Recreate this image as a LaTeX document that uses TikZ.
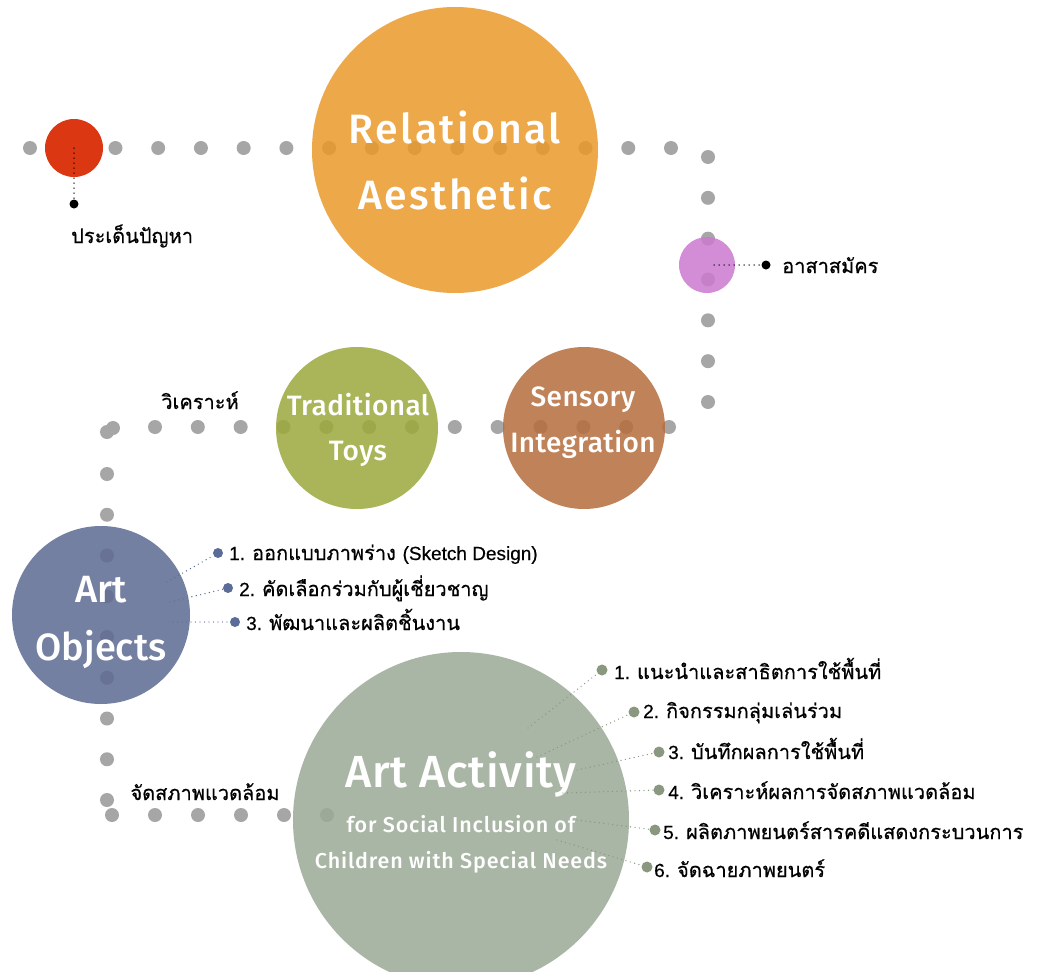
\documentclass[tikz,border=0pt]{standalone}
\usepackage{fontspec}
\setmainfont{Fira Sans}
\newfontfamily\titlefont{Fira Sans Medium}
\newfontfamily\thaifont[Script=Thai,FakeBold=0.6]{Loma}
\newfontfamily\latinfont[FakeBold=0.4,Scale=0.95]{Liberation Sans}
\newcommand{\ltn}[1]{{\latinfont #1}}
\definecolor{dotgray}{RGB}{166,166,166}
\definecolor{raFill}{RGB}{233,153,42}
\definecolor{ttFill}{RGB}{155,169,59}
\definecolor{siFill}{RGB}{181,109,61}
\definecolor{aoFill}{RGB}{92,106,146}
\definecolor{aaFill}{RGB}{155,169,150}
\definecolor{purFill}{RGB}{204,122,207}
\definecolor{redFill}{RGB}{218,55,18}
\definecolor{aoItem}{RGB}{91,108,152}
\definecolor{aaItem}{RGB}{138,152,128}
\begin{document}
\begin{tikzpicture}[x=1pt,y=-1pt,
  trail/.style={fill=dotgray},
  bubble/.style={circle,inner sep=0pt,draw=none,fill opacity=0.85},
  solidbubble/.style={circle,inner sep=0pt,draw=none},
  title/.style={text=white,anchor=base,inner sep=0pt},
  bigtitle/.style={title,font=\titlefont\fontsize{41}{41}\selectfont\addfontfeature{LetterSpace=6}},
  objtitle/.style={title,font=\titlefont\fontsize{38}{38}\selectfont},
  midtitle/.style={title,font=\titlefont\fontsize{28}{28}\selectfont\addfontfeature{LetterSpace=1.5}},
  smalltitle/.style={title,font=\titlefont\fontsize{21.5}{21.5}\selectfont\addfontfeature{LetterSpace=4}},
  tip/.style={circle,inner sep=0pt,minimum size=9pt,fill=black},
  pin/.style={black,line width=1.5pt,line cap=round,dash pattern=on 0pt off 5pt},
  aotip/.style={circle,inner sep=0pt,minimum size=10pt,fill=aoItem},
  aatip/.style={circle,inner sep=0pt,minimum size=11pt,fill=aaItem},
  aoline/.style={aoItem,line width=1.4pt,line cap=round,dash pattern=on 0pt off 4.5pt},
  aaline/.style={aaItem,line width=1.4pt,line cap=round,dash pattern=on 0pt off 4.5pt},
  thailabel/.style={inner sep=0pt,font=\thaifont\fontsize{20}{20}\selectfont},
]
\useasboundingbox (0,0) rectangle (1045,972);
\fill[white] (0,0) rectangle (1045,972);

% dotted trail running through the stages
\foreach \k in {0,...,15} \fill[trail] ({30+42.733*\k},148) circle[radius=7pt];
\foreach \k in {0,...,6} \fill[trail] (708,{157+40.833*\k}) circle[radius=7pt];
\foreach \k in {0,...,12} \fill[trail] ({155+42.833*\k},427) circle[radius=7pt];
\fill[trail] (113,428) circle[radius=7pt];
\fill[trail] (107,432) circle[radius=7pt];
\foreach \k in {0,...,8} \fill[trail] (107,{474+40.75*\k}) circle[radius=7pt];
\foreach \k in {0,...,5} \fill[trail] ({112+43*\k},815) circle[radius=7pt];

% stage circles
\node[bubble,fill=raFill,minimum size=286pt] (ra) at (455,150) {};
\node[bubble,fill=ttFill,minimum size=162pt] (tt) at (357,428) {};
\node[bubble,fill=siFill,minimum size=162pt] (si) at (584,428) {};
\node[bubble,fill=aoFill,minimum size=178pt] (ao) at (101,615) {};
\node[bubble,fill=aaFill,minimum size=336pt] (aa) at (461,820) {};
\node[bubble,fill=purFill,minimum size=56pt] (pur) at (707,265) {};
\node[solidbubble,fill=redFill,minimum size=58pt] (red) at (74,148) {};

% circle titles
\node[bigtitle] (raT1) at (455,143) {Relational};
\node[bigtitle] (raT2) at (455,209) {Aesthetic};
\node[midtitle] (ttT1) at (358,415) {Traditional};
\node[midtitle] (ttT2) at (358,460) {Toys};
\node[midtitle] (siT1) at (583,406) {Sensory};
\node[midtitle] (siT2) at (583,452) {Integration};
\node[objtitle] (aoT1) at (101,602) {Art};
\node[objtitle] (aoT2) at (101,660) {Objects};
\node[title,font=\titlefont\fontsize{45}{45}\selectfont\addfontfeature{LetterSpace=1.5}] (aaT1) at (461,787) {Art Activity};
\node[smalltitle] (aaT2) at (461,832) {for Social Inclusion of};
\node[smalltitle] (aaT3) at (461,868) {Children with Special Needs};

% pointers with black tips
\node[tip] (redtip) at (74,204) {};
\draw[pin] (red.center) -- (redtip);
\node[thailabel,anchor=base west] (redL) at (71,243) {ประเด็นปัญหา};
\coordinate (purS) at (714,265);
\node[tip] (purtip) at (766,265) {};
\draw[pin] (purS) -- (purtip);
\node[thailabel,anchor=base west] (purL) at (782,273) {อาสาสมัคร};

% trail labels
\node[thailabel,anchor=base] (anL) at (200,409) {วิเคราะห์};
\node[thailabel,anchor=base] (envL) at (205,800) {จัดสภาพแวดล้อม};

% Art Objects steps
\coordinate (aoS1) at (167,582);
\coordinate (aoS2) at (170,602);
\coordinate (aoS3) at (173,622);
\node[aotip] (aoD1) at (218,553) {};
\node[aotip] (aoD2) at (228,588) {};
\node[aotip] (aoD3) at (235,622) {};
\draw[aoline] (aoS1) -- (aoD1);
\draw[aoline] (aoS2) -- (aoD2);
\draw[aoline] (aoS3) -- (aoD3);
\node[thailabel,anchor=base west] (aoL1) at (229,560) {\ltn{1. }ออกแบบภาพร่าง \ltn{(Sketch Design)}};
\node[thailabel,anchor=base west] (aoL2) at (239,596) {\ltn{2. }คัดเลือกร่วมกับผู้เชี่ยวชาญ};
\node[thailabel,anchor=base west] (aoL3) at (246,630) {\ltn{3. }พัฒนาและผลิตชิ้นงาน};

% Art Activity steps
\coordinate (aaS1) at (528,728);
\coordinate (aaS2) at (537,757);
\coordinate (aaS3) at (577,770);
\coordinate (aaS4) at (563,793);
\coordinate (aaS5) at (577,820);
\coordinate (aaS6) at (557,840);
\node[aatip] (aaD1) at (602,670) {};
\node[aatip] (aaD2) at (634,712) {};
\node[aatip] (aaD3) at (659,752) {};
\node[aatip] (aaD4) at (659,790) {};
\node[aatip] (aaD5) at (655,830) {};
\node[aatip] (aaD6) at (647,867) {};
\foreach \i in {1,...,6} \draw[aaline] (aaS\i) -- (aaD\i);
\node[thailabel,anchor=base west] (aaL1) at (614,679) {\ltn{1. }แนะนำและสาธิตการใช้พื้นที่};
\node[thailabel,anchor=base west] (aaL2) at (643,718) {\ltn{2. }กิจกรรมกลุ่มเล่นร่วม};
\node[thailabel,anchor=base west] (aaL3) at (668,759) {\ltn{3. }บันทึกผลการใช้พื้นที่};
\node[thailabel,anchor=base west] (aaL4) at (668,799) {\ltn{4. }วิเคราะห์ผลการจัดสภาพแวดล้อม};
\node[thailabel,anchor=base west] (aaL5) at (663,839) {\ltn{5. }ผลิตภาพยนตร์สารคดีแสดงกระบวนการ};
\node[thailabel,anchor=base west] (aaL6) at (654,877) {\ltn{6. }จัดฉายภาพยนตร์};
\end{tikzpicture}
\end{document}
